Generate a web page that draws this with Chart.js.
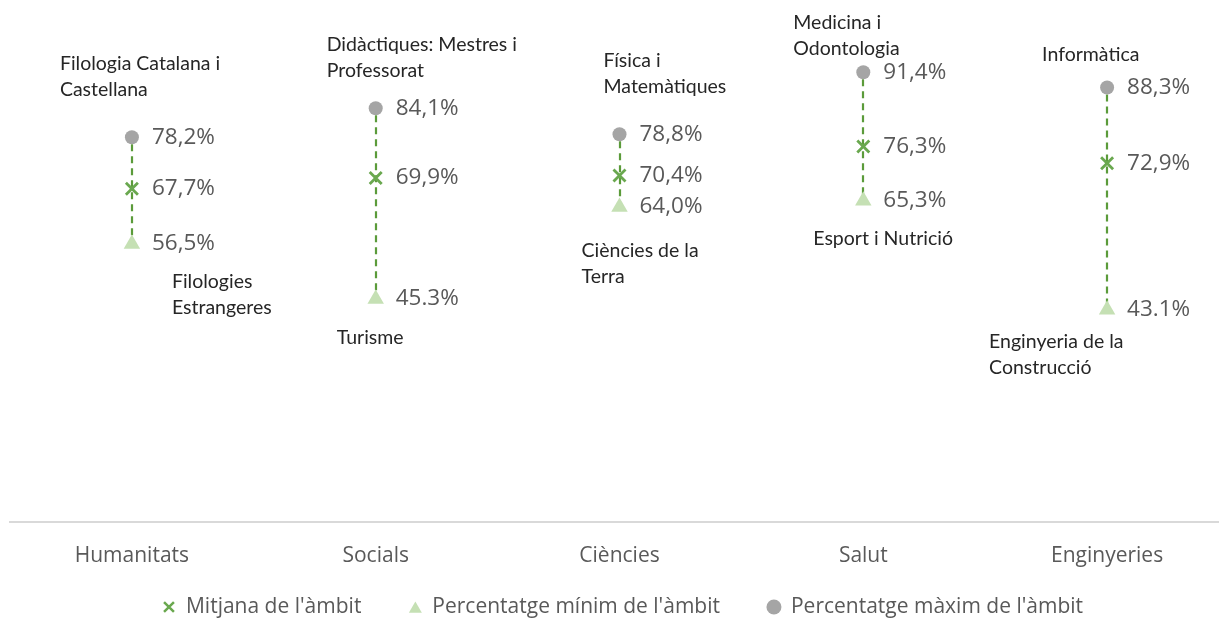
<!DOCTYPE html>
<html>
<head>
<meta charset="utf-8">
<script src="https://cdn.jsdelivr.net/npm/chart.js@4.4.1/dist/chart.umd.min.js"></script>
<style>
  html, body { margin: 0; padding: 0; background: #fff; overflow: hidden; }
  canvas { display: block; }
</style>
</head>
<body>
<!-- the plot runs a little past the right edge of the window -->
<canvas id="chart" width="1229" height="619"></canvas>
<script>
// rang de percentatges per àmbit
const categories = ["Humanitats", "Socials", "Ciències", "Salut", "Enginyeries"];
const maxValues = [78.2, 84.1, 78.8, 91.4, 88.3];
const meanValues = [67.7, 69.9, 70.4, 76.3, 72.9];
const minValues = [56.5, 45.3, 64.0, 65.3, 43.1];

// titulacions del màxim i del mínim de cada àmbit
const maxNames = [
  ["Filologia Catalana i", "Castellana"],
  ["Didàctiques: Mestres i", "Professorat"],
  ["Física i", "Matemàtiques"],
  ["Medicina i", "Odontologia"],
  ["Informàtica"],
];
const minNames = [
  ["Filologies", "Estrangeres"],
  ["Turisme"],
  ["Ciències de la", "Terra"],
  ["Esport i Nutrició"],
  ["Enginyeria de la", "Construcció"],
];
// separador decimal de cada etiqueta del mínim
const minDecimalSep = [",", ".", ",", ",", "."];

const seriesNames = ["Mitjana de l'àmbit", "Percentatge mínim de l'àmbit", "Percentatge màxim de l'àmbit"];

// placement of the name labels: [dx to left edge, dy from point to nearest line]
const maxNameOffsets = [[-72, -47], [-49, -37], [-16, -48], [-70, -24], [-65, -33]];
const minNameOffsets = [[40, 38], [-39, 39], [-38, 44], [-50, 38], [-118, 32]];

const GREEN_DASH = "#5b9b3a";
const GREEN_X = "#6aa84f";
const GREEN_LIGHT = "#c5e0b4";
const GREY = "#a5a5a5";
const TEXT = "#595959";

const fmt = (v, sep = ",") => v.toFixed(1).replace(".", sep) + "%";

// dashed segment from max to min in every category
const rangeLines = {
  id: "rangeLines",
  beforeDatasetsDraw(chart) {
    const { ctx, scales: { x, y } } = chart;
    ctx.save();
    ctx.strokeStyle = GREEN_DASH;
    ctx.lineWidth = 2.2;
    ctx.setLineDash([7, 5]);
    categories.forEach((c, i) => {
      const px = Math.round(x.getPixelForValue(i));
      ctx.beginPath();
      ctx.moveTo(px, y.getPixelForValue(maxValues[i]) + 7);
      ctx.lineTo(px, y.getPixelForValue(minValues[i]) - 4);
      ctx.stroke();
    });
    ctx.restore();
  },
};

// value labels next to the markers + degree names above/below
const pointLabels = {
  id: "pointLabels",
  afterDatasetsDraw(chart) {
    const { ctx, scales: { x, y } } = chart;
    ctx.save();
    ctx.textBaseline = "middle";
    ctx.textAlign = "left";

    ctx.font = "22.5px 'Open Sans'";
    ctx.fillStyle = TEXT;
    categories.forEach((c, i) => {
      const px = x.getPixelForValue(i) + 20;
      ctx.fillText(fmt(maxValues[i]), px, y.getPixelForValue(maxValues[i]));
      ctx.fillText(fmt(meanValues[i]), px, y.getPixelForValue(meanValues[i]));
      ctx.fillText(fmt(minValues[i], minDecimalSep[i]), px, y.getPixelForValue(minValues[i]));
    });

    ctx.font = "19.5px Lato";
    ctx.fillStyle = "#262626";
    const lh = 26;
    categories.forEach((c, i) => {
      const cx = x.getPixelForValue(i);
      const top = maxNames[i];
      const [tdx, tdy] = maxNameOffsets[i];
      const ty = y.getPixelForValue(maxValues[i]) + tdy;
      top.forEach((line, k) => {
        ctx.fillText(line, cx + tdx, ty - (top.length - 1 - k) * lh);
      });
      const bot = minNames[i];
      const [bdx, bdy] = minNameOffsets[i];
      const by = y.getPixelForValue(minValues[i]) + bdy;
      bot.forEach((line, k) => {
        ctx.fillText(line, cx + bdx, by + k * lh);
      });
    });
    ctx.restore();
  },
};

// legend row under the axis, markers taken from the datasets
const bottomLegend = {
  id: "bottomLegend",
  afterDraw(chart) {
    const { ctx, chartArea } = chart;
    const y = 607;
    const toText = 17;  // marker centre -> text
    const gap = 54;     // text end -> next marker centre
    ctx.save();
    ctx.font = "21px 'Open Sans'";
    ctx.textBaseline = "middle";
    ctx.textAlign = "left";
    const widths = chart.data.datasets.map((d) => ctx.measureText(d.label).width);
    let total = 7;
    widths.forEach((w, i) => { total += toText + w + (i < widths.length - 1 ? gap : 0); });
    let mx = (chartArea.left + chartArea.right) / 2 + 3 - total / 2 + 7;
    chart.data.datasets.forEach((d, i) => {
      const cross = d.pointStyle === "crossRot";
      ctx.fillStyle = d.backgroundColor;
      ctx.strokeStyle = d.borderColor;
      ctx.lineWidth = 2.5;
      Chart.helpers.drawPoint(ctx, {
        pointStyle: d.pointStyle,
        radius: cross ? 7 : 7.5,
        rotation: 0,
        borderWidth: cross ? 2.5 : 0,
      }, mx, d.pointStyle === "triangle" ? y + 2 : y);
      ctx.fillStyle = TEXT;
      ctx.fillText(d.label, mx + toText, y);
      mx += toText + widths[i] + gap;
    });
    ctx.restore();
  },
};

new Chart(document.getElementById("chart"), {
  type: "line",
  data: {
    labels: categories,
    datasets: [
      {
        label: seriesNames[0],
        data: meanValues,
        showLine: false,
        pointStyle: "crossRot",
        pointRadius: 8.5,
        borderWidth: 2.8,
        borderColor: GREEN_X,
        backgroundColor: GREEN_X,
      },
      {
        label: seriesNames[1],
        data: minValues,
        showLine: false,
        pointStyle: "triangle",
        pointRadius: 9.5,
        borderWidth: 0,
        borderColor: GREEN_LIGHT,
        backgroundColor: GREEN_LIGHT,
      },
      {
        label: seriesNames[2],
        data: maxValues,
        showLine: false,
        pointStyle: "circle",
        pointRadius: 7,
        borderWidth: 0,
        borderColor: GREY,
        backgroundColor: GREY,
      },
    ],
  },
  options: {
    responsive: false,
    animation: false,
    layout: {
      autoPadding: false,
      padding: { top: 30, right: 0, bottom: 28, left: 10 },
    },
    plugins: {
      tooltip: { enabled: false },
      legend: { display: false },
    },
    scales: {
      x: {
        offset: true,
        grid: { display: false, drawTicks: false },
        border: { display: true, color: "#d9d9d9", width: 2 },
        ticks: {
          padding: 22,
          color: TEXT,
          font: { family: "'Open Sans'", size: 21 },
          maxRotation: 0,
        },
      },
      y: {
        display: false,
        min: 0,
        max: 100,
      },
    },
  },
  plugins: [rangeLines, pointLabels, bottomLegend],
});
</script>
</body>
</html>
